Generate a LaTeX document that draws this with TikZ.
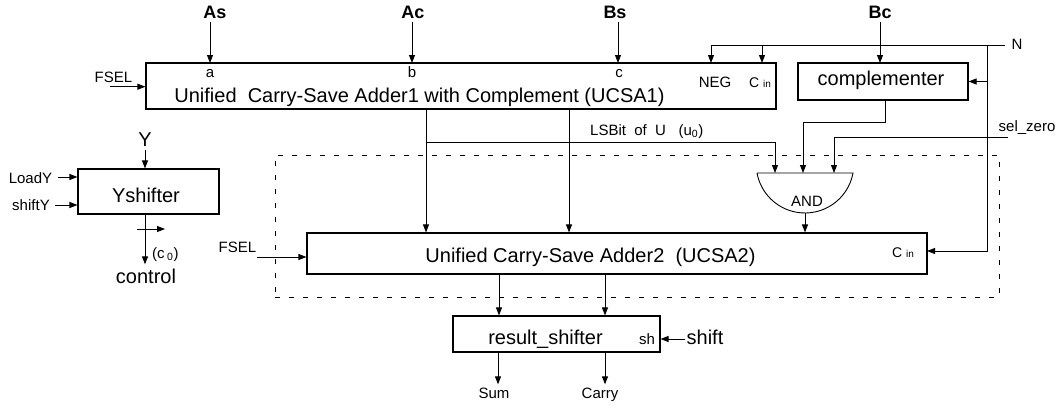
\documentclass[tikz,border=0pt]{standalone}
\usepackage{fontspec}
\setmainfont{Liberation Sans}
\usetikzlibrary{arrows.meta,calc}
\begin{document}
\begin{tikzpicture}[x=1pt,y=-1pt,
  box/.style={draw, line width=1.1pt, inner sep=0pt},
  big/.style={font=\fontsize{20}{24}\selectfont, inner sep=0pt, anchor=base},
  sml/.style={font=\fontsize{15}{18}\selectfont, inner sep=0pt, anchor=base},
  bld/.style={font=\fontsize{18}{22}\selectfont\bfseries, inner sep=0pt, anchor=base},
  arr/.style={-{Triangle[length=8pt,width=6pt]}, line width=0.9pt},
  wire/.style={line width=0.9pt},
  dsh/.style={draw, dash pattern=on 5pt off 9pt, line width=0.9pt, inner sep=0pt}
]
\useasboundingbox (0,0) rectangle (1063,407);

% dashed group
\node[dsh, minimum width=724pt, minimum height=142pt] (grp) at (637,226) {};

% boxes
\node[box, minimum width=630pt, minimum height=46pt] (u1) at (461,86) {};
\node[box, minimum width=170pt, minimum height=37pt] (cmp) at (883,81.5) {};
\node[box, minimum width=620pt, minimum height=41pt] (u2) at (617,253.5) {};
\node[box, minimum width=207pt, minimum height=36pt] (rs) at (556.5,334) {};
\node[box, minimum width=141pt, minimum height=45pt] (ys) at (148.5,191.5) {};

% box texts
\node[big] (u1t) at (419.5,102) {Unified\ \ Carry-Save Adder1 with Complement (UCSA1)};
\node[big] (cmpt) at (881,85) {complementer};
\node[big] (u2t) at (590.5,262) {Unified Carry-Save Adder2\ \ (UCSA2)};
\node[big] (rst) at (545.5,344) {result\_shifter};
\node[big] (yst) at (146,202) {Yshifter};

% port labels
\node[sml] (la) at (210,77) {a};
\node[sml] (lb) at (412,77) {b};
\node[sml] (lc) at (619,77) {c};
\node[sml] (neg) at (715,87) {NEG};
\node[inner sep=0pt, anchor=base] (cin1) at (760,87) {\fontsize{14}{16}\selectfont C {\fontsize{10}{12}\selectfont in}};
\node[inner sep=0pt, anchor=base] (cin2) at (903,257) {\fontsize{14}{16}\selectfont C {\fontsize{10}{12}\selectfont in}};
\node[sml] (sh) at (647,344) {sh};

% top inputs
\node[bld] (As) at (215,18) {As};
\node[bld] (Ac) at (413,18) {Ac};
\node[bld] (Bs) at (615,18) {Bs};
\node[bld] (Bc) at (880,18) {Bc};

% other labels
\node[sml] (fsel1) at (113.5,82) {FSEL};
\node[sml] (fsel2) at (237.5,252) {FSEL};
\node[sml, anchor=base west] (lsb) at (590,135) {LSBit\ \ of\ \ U\ \ \ (u\textsubscript{0})};
\node[sml] (selz) at (1027,131) {sel\_zero};
\node[sml] (N) at (1017,49) {N};
\node[sml] (andl) at (807,206) {AND};
\node[big] (Y) at (145,146) {Y};
\node[sml] (loady) at (30.5,183) {LoadY};
\node[sml] (shifty) at (31,210) {shiftY};
\node[sml, anchor=base west] (c0) at (152,258) {(c\,\textsubscript{0})};
\node[big] (ctl) at (146,283) {control};
\node[big] (shift) at (705,344) {shift};
\node[sml] (sum) at (494,398) {Sum};
\node[sml] (carry) at (600,398) {Carry};

% coordinates
\coordinate (pa) at (210,63);
\coordinate (pb) at (412,63);
\coordinate (pc) at (618,63);
\coordinate (pd) at (880,63);
\coordinate (fs1) at (110,86.7);
\coordinate (fs2) at (257,257);
\coordinate (Nend) at (1005,45);
\coordinate (negp) at (711,63);
\coordinate (cinp) at (762,63);
\coordinate (vx) at (987,45);
\coordinate (cin2p) at (927,251);
\coordinate (o1) at (426,109);
\coordinate (o2) at (569,109);
\coordinate (u0s) at (426,142);
\coordinate (g1) at (775,173);
\coordinate (g2) at (803,173);
\coordinate (g3) at (834,173);
\coordinate (co) at (885,100);
\coordinate (sz) at (1008,137);
\coordinate (gate) at (805,213);
\coordinate (q1) at (499,274);
\coordinate (q2) at (605,274);
\coordinate (s1) at (498,352);
\coordinate (s2) at (605,352);
\coordinate (shp) at (685,339);
\coordinate (yin) at (145,150);
\coordinate (ld) at (58,177);
\coordinate (sy) at (55,205);
\coordinate (yo) at (145,214);
\coordinate (cx) at (137,229);

% AND gate
\draw[wire] (757,173) -- (853,173) arc[start angle=-10.4, end angle=-169.6, radius=48.8pt] -- cycle;

% top arrows
\draw[arr] ($(pa|-As.south)+(0,4)$) -- (pa);
\draw[arr] ($(pb|-Ac.south)+(0,4)$) -- (pb);
\draw[arr] ($(pc|-Bs.south)+(0,4)$) -- (pc);
\draw[arr] ($(pd|-Bc.south)+(0,4)$) -- (pd);
\draw[arr] (fs1) -- (fs1 -| u1.west);

% N net
\draw[arr] (Nend) -| (negp);
\draw[arr] (cinp |- Nend) -- (cinp);
\draw[arr] (vx) |- (cin2p);
\draw[arr] (vx |- cmp.east) -- (cmp.east);

% UCSA1 outputs
\draw[arr] (o1) -- (o1 |- u2.north);
\draw[arr] (o2) -- (o2 |- u2.north);
\draw[arr] (u0s) -| (g1);
\draw[arr] (co) -- ++(0,22) -| (g2);
\draw[arr] (sz) -| (g3);
\draw[arr] (gate) -- (gate |- u2.north);
\draw[arr] (fs2) -- (fs2 -| u2.west);

% UCSA2 outputs
\draw[arr] (q1) -- (q1 |- rs.north);
\draw[arr] (q2) -- (q2 |- rs.north);
\draw[arr] (s1) -- ($(s1|-sum.north)+(0,-3)$);
\draw[arr] (s2) -- ($(s2|-carry.north)+(0,-3)$);
\draw[arr] (shp) -- (shp -| rs.east);

% Yshifter
\draw[arr] (yin) -- (yin |- ys.north);
\draw[arr] (ld) -- (ld -| ys.west);
\draw[arr] (sy) -- (sy -| ys.west);
\draw[arr] (yo) -- ($(yo|-ctl.north)+(0,-4)$);
\draw[arr] (cx) -- ++(28,0);
\end{tikzpicture}
\end{document}
